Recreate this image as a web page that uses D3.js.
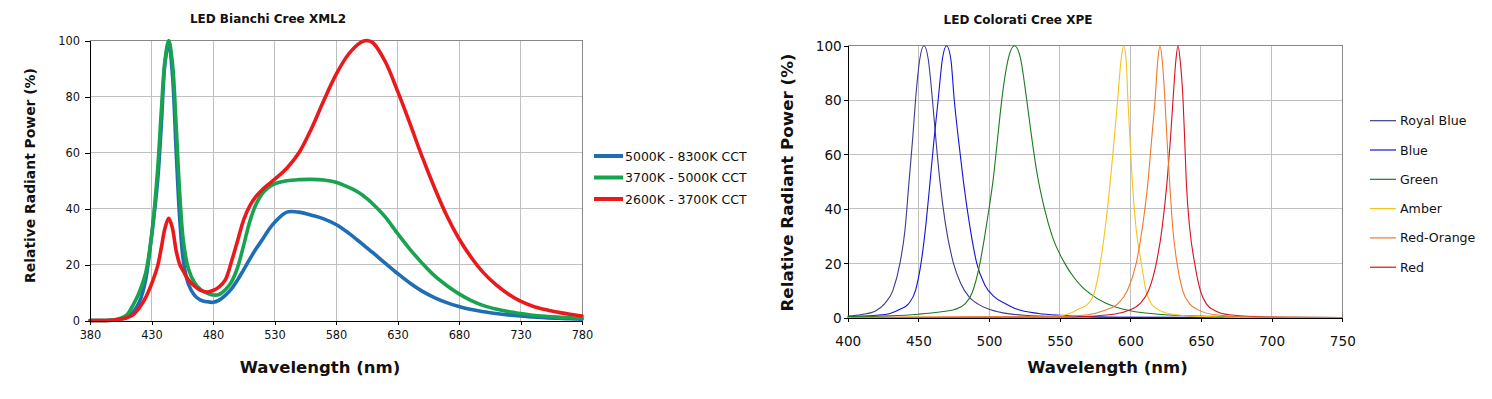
<!DOCTYPE html>
<html>
<head>
<meta charset="utf-8">
<script src="https://cdn.jsdelivr.net/npm/d3@7"></script>
<style>
  html, body { margin: 0; padding: 0; background: #ffffff; }
  svg { display: block; font-family: "DejaVu Sans", Verdana, sans-serif; }
</style>
</head>
<body>
<script>
// ---------------- LEFT CHART DATA: LED Bianchi Cree XML2 ----------------
const leftTitle = "LED Bianchi Cree XML2";
const leftXTicks = [380, 430, 480, 530, 580, 630, 680, 730, 780];
const leftYTicks = [0, 20, 40, 60, 80, 100];
const leftNames = ["5000K - 8300K CCT", "3700K - 5000K CCT", "2600K - 3700K CCT"];
const leftWavelengths = [380,390,400,405,410,415,420,425,430,435,438,441,444,447,450,453,456,460,465,470,475,480,485,490,495,500,505,510,515,520,525,530,540,550,560,570,580,590,600,605,610,620,630,640,650,660,670,680,690,700,710,720,730,740,750,760,770,780];
const cool    = [0,0,0.2,0.5,1.2,3,6.5,14,30,50,70,92,99,88,61,36,21,13,9,7.3,6.7,6.5,7.3,9,11.3,14.5,18.2,22,25.6,28.8,32.2,35,38.7,38.7,37.6,36.3,34.3,31.3,27.8,26,24.2,20.5,16.8,13.4,10.5,8.2,6.4,5,3.9,3.1,2.5,2,1.6,1.3,1,0.8,0.6,0.5];
const neutral = [0,0,0.3,0.8,2,5.5,10,16.5,30,54,75,93,100,92,70,45,28,18.5,13.5,11,9.8,9.1,9.3,11,13.8,19,27,35.5,41.5,45.3,47.5,48.8,49.9,50.3,50.4,50.2,49.4,47.6,45.3,43.6,41.6,37,31.1,25.5,20.5,16,12.5,9.5,7.1,5.3,4.1,3.2,2.5,1.9,1.5,1.2,1,0.8];
const warm    = [0,0,0.2,0.5,1,2,4.5,8,13,19.5,26,33,36.5,33,25,20,17.5,14.5,12.3,10.8,10.2,10.7,12,14.5,21,28.5,36,41,44.3,46.7,48.6,50.4,54.4,60,68.5,78.5,87.8,95,99.3,100,99.2,92.5,82,70.5,58.5,47.5,37.5,29.2,22.5,17,12.8,9.5,6.9,5.1,3.9,3,2.2,1.6];
const leftColors = ["#1f6eb5", "#17a34f", "#ea1a1c"];

// ---------------- RIGHT CHART DATA: LED Colorati Cree XPE ----------------
const rightTitle = "LED Colorati Cree XPE";
const rightXTicks = [400, 450, 500, 550, 600, 650, 700, 750];
const rightYTicks = [0, 20, 40, 60, 80, 100];
const rightNames = ["Royal Blue", "Blue", "Green", "Amber", "Red-Orange", "Red"];
const rightColors = ["#3b3b8f", "#1414d6", "#1f7a1f", "#f7c21a", "#ee7a30", "#dc1020"];

const royalBlueWl = [400,410,420,426,432,437,440.5,443.4,446,448,451,454,457,460,462.5,465.3,469,474.8,480,486,492,500,510,525,550,600,750];
const royalBlueVal = [0.5,1.1,2.5,5,10,20,32,50,66,80,95,100,95,80,65,50,35,20,12.5,7.5,5,3,1.7,0.8,0.3,0.05,0];

const blueWl = [400,420,430,437,443,448,451.9,455.5,458.3,461,464,467,470,473,475.4,478.5,481.9,486,491.3,497,504,512,520,535,550,575,600,750];
const blueVal = [0.3,0.8,1.5,3,5,10,20,35,50,65,80,95,100,95,80,65,50,35,20,12,7.5,5,3,1.5,0.8,0.3,0.1,0];

const greenWl = [400,430,450,465,476,483,488,493.6,497,500,503,506,509,514,518,522,526.7,530,534,539,545,553.5,560,566,571.5,582,590,600,620,650,700,750];
const greenVal = [0.3,0.6,1.2,2,3,5,9,20,30,40,51,65.5,80,96,100,96,80,67,53,40.5,29.5,20,14.8,11.2,8.8,5.4,3.8,2.5,1.2,0.5,0.1,0];

const amberWl = [400,540,550,557,563,570,575,578.8,582,585.8,588.5,591,593.5,595.3,597,598.3,599.8,601.4,604,607.8,611,614.9,620,630,645,670,700,750];
const amberVal = [0,0.2,0.6,1.5,3,5,10,20,32,50,65,80,95,100,95,80,65,50,33,20,10,5,2.8,1.2,0.5,0.15,0,0];

const redOrangeWl = [400,550,570,581,591,598,604.2,608.5,612.5,615,617.5,619.5,621,622.5,624.5,626,627.8,630,633,637,642,648,660,680,700,750];
const redOrangeVal = [0,0.3,1,2.5,5,10,20,33,50,65,80,95,100,95,80,65,50,33,20,10,5,2.8,1,0.3,0.1,0];

const redWl = [400,560,585,598,606.6,613,618.4,622.5,626,628.3,630.2,632.3,633.7,635.2,637.3,638.5,639.6,642,645.5,649.5,653.8,660,670,690,710,750];
const redVal = [0,0.2,1,2.5,5,10,20,33,50,65,80,95,100,95,80,65,50,33,20,10,5,2.5,1,0.3,0.1,0];

// ---------------- BUILD ----------------
const W = 1492, H = 399;
const svg = d3.select("body").append("svg").attr("width", W).attr("height", H);

function drawFrame(g, x, y, xTicks, yTicks) {
  const x0 = x.range()[0], x1 = x.range()[1];
  const y0 = y.range()[0], y1 = y.range()[1];
  g.append("g").selectAll("line").data(xTicks.slice(1, -1)).join("line")
    .attr("x1", d => x(d)).attr("x2", d => x(d)).attr("y1", y0).attr("y2", y1)
    .attr("stroke", "#c0c0c0").attr("stroke-width", 1).attr("shape-rendering", "crispEdges");
  g.append("g").selectAll("line").data(yTicks.slice(1, -1)).join("line")
    .attr("x1", x0).attr("x2", x1).attr("y1", d => y(d)).attr("y2", d => y(d))
    .attr("stroke", "#c0c0c0").attr("stroke-width", 1).attr("shape-rendering", "crispEdges");
  g.append("path").attr("d", `M${x0},${y1}H${x1}V${y0}`)
    .attr("fill", "none").attr("stroke", "#888888").attr("stroke-width", 1).attr("shape-rendering", "crispEdges");
}

function styleAxis(ax, fontSize) {
  ax.selectAll("path").attr("stroke", "#000").attr("stroke-width", 1).attr("shape-rendering", "crispEdges");
  ax.selectAll("line").attr("stroke", "#000").attr("stroke-width", 1).attr("shape-rendering", "crispEdges");
  ax.selectAll("text").attr("fill", "#111").style("font-size", fontSize + "px").style("font-family", "DejaVu Sans");
}

// ======== LEFT CHART ========
(function () {
  const x = d3.scaleLinear().domain([380, 780]).range([90, 582]);
  const y = d3.scaleLinear().domain([0, 100]).range([320.5, 40.5]);
  const g = svg.append("g");
  drawFrame(g, x, y, leftXTicks, leftYTicks);

  const clipId = "clipL";
  svg.append("clipPath").attr("id", clipId).append("rect")
    .attr("x", 88).attr("y", 36).attr("width", 496).attr("height", 287);

  const series = [cool, neutral, warm];
  const line = d3.line().curve(d3.curveCatmullRom.alpha(0.5));
  series.forEach((vals, i) => {
    g.append("path")
      .attr("clip-path", `url(#${clipId})`)
      .attr("d", line(leftWavelengths.map((w, k) => [x(w), y(vals[k])])))
      .attr("fill", "none").attr("stroke", leftColors[i]).attr("stroke-width", 3.6)
      .attr("stroke-linejoin", "round").attr("stroke-linecap", "round");
  });

  const xa = g.append("g").attr("transform", `translate(0,${y(0)})`)
    .call(d3.axisBottom(x).tickValues(leftXTicks).tickSize(4).tickSizeOuter(0));
  styleAxis(xa, 11.4);
  xa.selectAll("text").attr("y", 18.5).attr("dy", 0);

  const ya = g.append("g").attr("transform", `translate(${x(380)},0)`)
    .call(d3.axisLeft(y).tickValues(leftYTicks).tickSize(5).tickSizeOuter(0));
  styleAxis(ya, 11.4);
  ya.selectAll("text").attr("x", -10).attr("dy", "0.35em");

  g.append("text").attr("x", 268).attr("y", 23)
    .attr("text-anchor", "middle").attr("font-weight", "bold").attr("font-size", 12)
    .attr("fill", "#111").text(leftTitle);
  g.append("text").attr("x", 320).attr("y", 372.5)
    .attr("text-anchor", "middle").attr("font-weight", "bold").attr("font-size", 16.5)
    .attr("fill", "#111").text("Wavelength (nm)");
  g.append("text").attr("transform", "translate(35,175.5) rotate(-90)")
    .attr("text-anchor", "middle").attr("font-weight", "bold").attr("font-size", 13.9)
    .attr("fill", "#111").text("Relative Radiant Power (%)");

  const lg = g.append("g");
  leftNames.forEach((n, i) => {
    const yy = 156 + i * 21.5;
    lg.append("line").attr("x1", 594).attr("x2", 623).attr("y1", yy).attr("y2", yy)
      .attr("stroke", leftColors[i]).attr("stroke-width", 4);
    lg.append("text").attr("x", 625).attr("y", yy).attr("dy", "0.36em")
      .attr("font-size", 12.5).attr("fill", "#111").text(n);
  });
})();

// ======== RIGHT CHART ========
(function () {
  const x = d3.scaleLinear().domain([400, 750]).range([847.7, 1342.3]);
  const y = d3.scaleLinear().domain([0, 100]).range([317.5, 45.7]);
  const g = svg.append("g");
  drawFrame(g, x, y, rightXTicks, rightYTicks);

  const clipId = "clipR";
  svg.append("clipPath").attr("id", clipId).append("rect")
    .attr("x", 846).attr("y", 42).attr("width", 498).attr("height", 278);

  const series = [
    [royalBlueWl, royalBlueVal, 0],
    [blueWl, blueVal, 1],
    [greenWl, greenVal, 2],
    [amberWl, amberVal, 3],
    [redWl, redVal, 5],
    [redOrangeWl, redOrangeVal, 4]
  ];
  const line = d3.line().curve(d3.curveMonotoneX);

  const xa = g.append("g").attr("transform", `translate(0,${y(0)})`)
    .call(d3.axisBottom(x).tickValues(rightXTicks).tickSize(4).tickSizeOuter(0));
  styleAxis(xa, 13.6);
  xa.selectAll("text").attr("y", 28.5).attr("dy", 0);

  const ya = g.append("g").attr("transform", `translate(${x(400)},0)`)
    .call(d3.axisLeft(y).tickValues(rightYTicks).tickSize(4).tickSizeOuter(0));
  styleAxis(ya, 13.6);
  ya.selectAll("text").attr("x", -6).attr("dy", "0.36em");

  series.forEach(([wl, vals, ci]) => {
    g.append("path")
      .attr("clip-path", `url(#${clipId})`)
      .attr("d", line(wl.map((w, k) => [x(w), y(vals[k])])))
      .attr("fill", "none").attr("stroke", rightColors[ci]).attr("stroke-width", 1.1);
  });

  g.append("text").attr("x", 1018).attr("y", 23.5)
    .attr("text-anchor", "middle").attr("font-weight", "bold").attr("font-size", 12)
    .attr("fill", "#111").text(rightTitle);
  g.append("text").attr("x", 1107.5).attr("y", 372.5)
    .attr("text-anchor", "middle").attr("font-weight", "bold").attr("font-size", 16.5)
    .attr("fill", "#111").text("Wavelength (nm)");
  g.append("text").attr("transform", "translate(793,182.5) rotate(-90)")
    .attr("text-anchor", "middle").attr("font-weight", "bold").attr("font-size", 16.7)
    .attr("fill", "#111").text("Relative Radiant Power (%)");

  const lg = g.append("g");
  rightNames.forEach((n, i) => {
    const yy = 120.7 + i * 29.3;
    lg.append("line").attr("x1", 1370).attr("x2", 1396).attr("y1", yy).attr("y2", yy)
      .attr("stroke", rightColors[i]).attr("stroke-width", 1.2);
    lg.append("text").attr("x", 1400).attr("y", yy).attr("dy", "0.36em")
      .attr("font-size", 12.6).attr("fill", "#111").text(n);
  });
})();
</script>
</body>
</html>
